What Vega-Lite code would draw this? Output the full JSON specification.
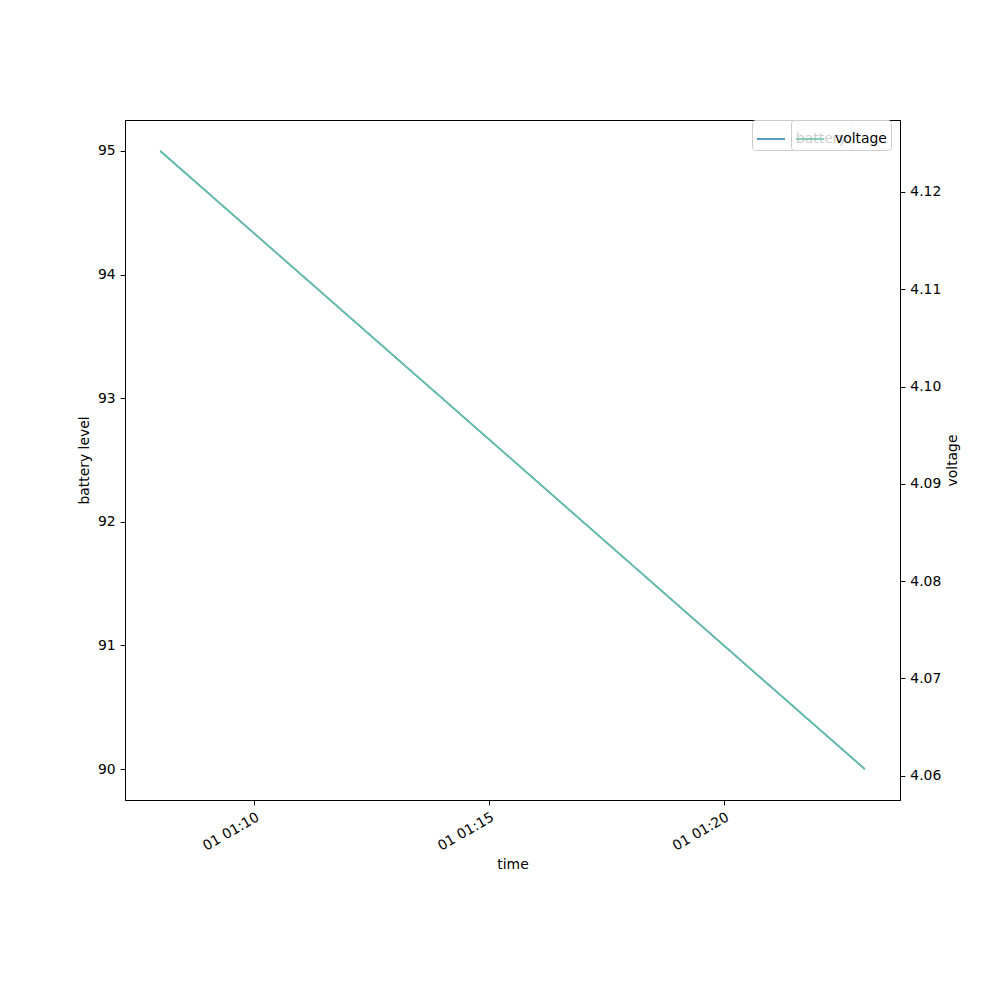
{
  "$schema": "https://vega.github.io/schema/vega-lite/v6.json",
  "autosize": {"type": "none"},
  "padding": {"left": 125, "top": 120, "right": 100, "bottom": 200},
  "width": 775,
  "height": 680,
  "background": "white",
  "config": {
    "view": {"stroke": "#000000", "strokeWidth": 1},
    "font": "DejaVu Sans",
    "axis": {
      "grid": false,
      "domainColor": "#000000",
      "tickColor": "#000000",
      "tickSize": 4.9,
      "labelPadding": 4.9,
      "labelFontSize": 13.9,
      "labelColor": "#000000",
      "titleFontSize": 13.9,
      "titleFontWeight": "normal",
      "titleColor": "#000000",
      "labelFont": "DejaVu Sans",
      "titleFont": "DejaVu Sans"
    },
    "legend": {
      "labelFont": "DejaVu Sans",
      "labelFontSize": 13.9,
      "labelColor": "#000000"
    }
  },
  "data": {
    "values": [
      {"time": "2024-01-01T01:08:00Z", "battery": 95, "voltage": 4.1242},
      {"time": "2024-01-01T01:23:00Z", "battery": 90, "voltage": 4.0607}
    ]
  },
  "layer": [
    {
      "mark": {"type": "line", "strokeWidth": 1.5},
      "encoding": {
        "x": {
          "field": "time",
          "type": "temporal",
          "scale": {"type": "utc", "domain": ["2024-01-01T01:07:15Z", "2024-01-01T01:23:45Z"], "nice": false},
          "axis": {
            "title": "time",
            "labelExpr": "utcFormat(datum.value, '%d %H:%M')",
            "values": ["2024-01-01T01:10:00Z", "2024-01-01T01:15:00Z", "2024-01-01T01:20:00Z"],
            "labelAngle": -30,
            "labelAlign": "right",
            "labelBaseline": "top",
            "titlePadding": 5
          }
        },
        "y": {
          "field": "battery",
          "type": "quantitative",
          "scale": {"domain": [89.75, 95.25], "nice": false, "zero": false},
          "axis": {"title": "battery level", "orient": "left", "values": [90, 91, 92, 93, 94, 95], "titlePadding": 6}
        },
        "color": {
          "datum": "battery",
          "type": "nominal",
          "scale": {"domain": ["battery"], "range": ["#1f77b4"]},
          "legend": {
            "title": null,
            "orient": "none",
            "legendX": 627,
            "legendY": 0,
            "symbolType": "stroke",
            "symbolSize": 784,
            "symbolStrokeWidth": 1.5,
            "fillColor": "rgba(255,255,255,0.8)",
            "strokeColor": "#cccccc",
            "cornerRadius": 3,
            "padding": 4,
            "labelOffset": 10
          }
        }
      }
    },
    {
      "mark": {"type": "line", "strokeWidth": 1.5},
      "encoding": {
        "x": {"field": "time", "type": "temporal"},
        "y": {
          "field": "voltage",
          "type": "quantitative",
          "scale": {"domain": [4.0575, 4.1274], "nice": false, "zero": false},
          "axis": {"title": "voltage", "orient": "right", "titleAngle": 270, "format": ".2f", "values": [4.06, 4.07, 4.08, 4.09, 4.10, 4.11, 4.12], "titlePadding": 19}
        },
        "color": {
          "datum": "voltage",
          "type": "nominal",
          "scale": {"domain": ["voltage"], "range": ["#66c2a5"]},
          "legend": {
            "title": null,
            "orient": "none",
            "legendX": 666,
            "legendY": 0,
            "symbolType": "stroke",
            "symbolSize": 784,
            "symbolStrokeWidth": 1.5,
            "fillColor": "rgba(255,255,255,0.8)",
            "strokeColor": "#cccccc",
            "cornerRadius": 3,
            "padding": 4,
            "labelOffset": 10
          }
        }
      }
    }
  ],
  "resolve": {"scale": {"y": "independent", "color": "independent"}, "legend": {"color": "independent"}}
}
